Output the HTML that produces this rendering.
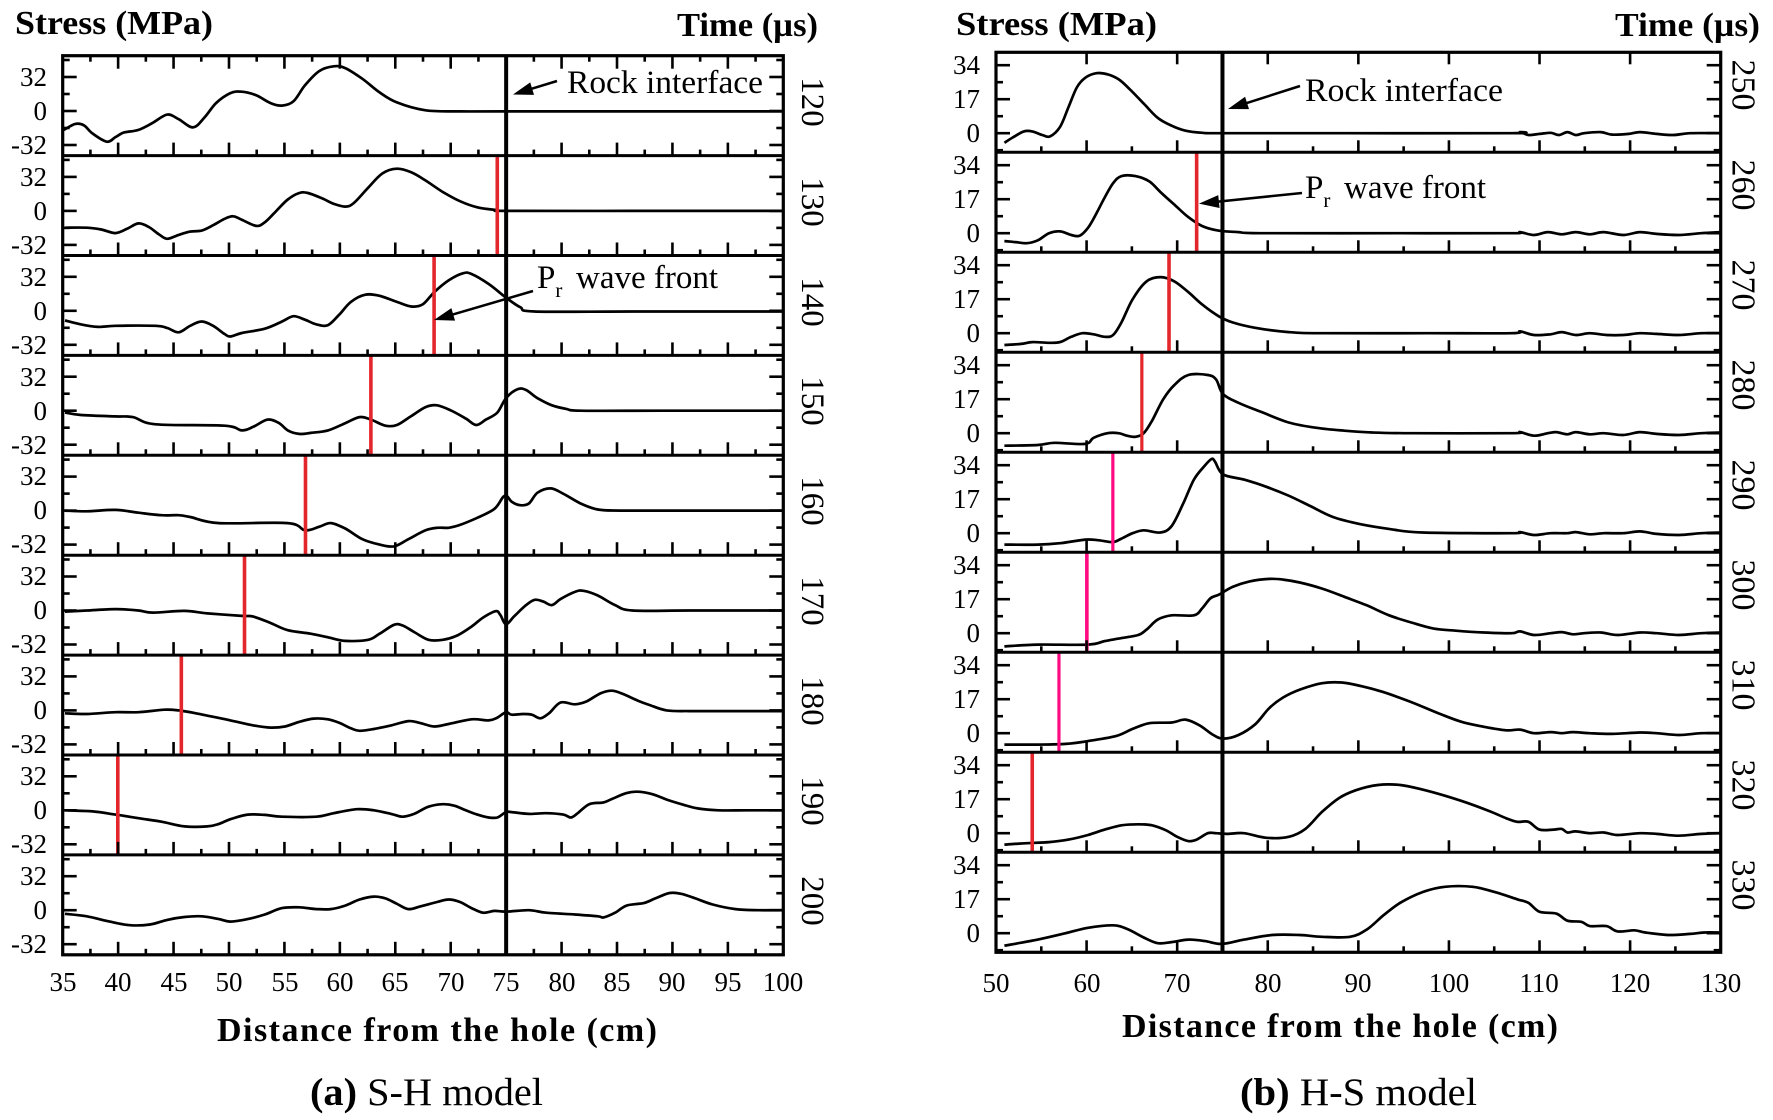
<!DOCTYPE html>
<html><head><meta charset="utf-8">
<style>
html,body{margin:0;padding:0;background:#fff;}
svg{display:block;}
text{font-family:"Liberation Serif","Times New Roman",serif;fill:#000;}
.b{font-weight:bold;}
</style></head>
<body>
<svg id="c" xmlns="http://www.w3.org/2000/svg" width="1773" height="1120" viewBox="0 0 1773 1120">
<rect x="0" y="0" width="1773" height="1120" fill="#fff"/>
<g id="plot"></g>
<!-- titles -->
<text class="b" x="15" y="34" font-size="34" textLength="198" lengthAdjust="spacingAndGlyphs">Stress (MPa)</text>
<text class="b" x="677" y="36" font-size="34" textLength="141" lengthAdjust="spacingAndGlyphs">Time (µs)</text>
<text class="b" x="956" y="35" font-size="34" textLength="201" lengthAdjust="spacingAndGlyphs">Stress (MPa)</text>
<text class="b" x="1615" y="36" font-size="34" textLength="145" lengthAdjust="spacingAndGlyphs">Time (µs)</text>
<text class="b" x="217" y="1041" font-size="34" textLength="440" lengthAdjust="spacing">Distance from the hole (cm)</text>
<text class="b" x="1122" y="1037" font-size="34" textLength="436" lengthAdjust="spacing">Distance from the hole (cm)</text>
<text x="310" y="1105" font-size="39" textLength="233" lengthAdjust="spacingAndGlyphs"><tspan font-weight="bold">(a)</tspan> S-H model</text>
<text x="1240" y="1105" font-size="39" textLength="237" lengthAdjust="spacingAndGlyphs"><tspan font-weight="bold">(b)</tspan> H-S model</text>
<!-- annotations -->
<text x="567" y="93" font-size="33" textLength="196" lengthAdjust="spacingAndGlyphs">Rock interface</text>
<text x="537" y="288" font-size="33">P<tspan font-size="21" dy="9">r</tspan><tspan dy="-9" x="576">wave front</tspan></text>
<text x="1305" y="101" font-size="33" textLength="198" lengthAdjust="spacingAndGlyphs">Rock interface</text>
<text x="1305" y="198" font-size="33">P<tspan font-size="21" dy="9">r</tspan><tspan dy="-9" x="1344">wave front</tspan></text>
<!-- left tick labels -->
<g font-size="27" text-anchor="end">
<text x="47" y="86">32</text><text x="47" y="120">0</text><text x="47" y="154">-32</text>
<text x="47" y="186">32</text><text x="47" y="220">0</text><text x="47" y="254">-32</text>
<text x="47" y="286">32</text><text x="47" y="320">0</text><text x="47" y="354">-32</text>
<text x="47" y="386">32</text><text x="47" y="420">0</text><text x="47" y="454">-32</text>
<text x="47" y="485">32</text><text x="47" y="519">0</text><text x="47" y="553">-32</text>
<text x="47" y="585">32</text><text x="47" y="619">0</text><text x="47" y="653">-32</text>
<text x="47" y="685">32</text><text x="47" y="719">0</text><text x="47" y="753">-32</text>
<text x="47" y="785">32</text><text x="47" y="819">0</text><text x="47" y="853">-32</text>
<text x="47" y="885">32</text><text x="47" y="919">0</text><text x="47" y="953">-32</text>
</g>
<g font-size="27" text-anchor="end">
<text x="980" y="74">34</text><text x="980" y="108">17</text><text x="980" y="142">0</text>
<text x="980" y="174">34</text><text x="980" y="208">17</text><text x="980" y="242">0</text>
<text x="980" y="274">34</text><text x="980" y="308">17</text><text x="980" y="342">0</text>
<text x="980" y="374">34</text><text x="980" y="408">17</text><text x="980" y="442">0</text>
<text x="980" y="474">34</text><text x="980" y="508">17</text><text x="980" y="542">0</text>
<text x="980" y="574">34</text><text x="980" y="608">17</text><text x="980" y="642">0</text>
<text x="980" y="674">34</text><text x="980" y="708">17</text><text x="980" y="742">0</text>
<text x="980" y="774">34</text><text x="980" y="808">17</text><text x="980" y="842">0</text>
<text x="980" y="874">34</text><text x="980" y="908">17</text><text x="980" y="942">0</text>
</g>
<!-- bottom tick labels -->
<g font-size="27" text-anchor="middle">
<text x="63" y="991">35</text><text x="118" y="991">40</text><text x="174" y="991">45</text><text x="229" y="991">50</text>
<text x="285" y="991">55</text><text x="340" y="991">60</text><text x="395" y="991">65</text><text x="451" y="991">70</text>
<text x="506" y="991">75</text><text x="562" y="991">80</text><text x="617" y="991">85</text><text x="672" y="991">90</text>
<text x="728" y="991">95</text><text x="783" y="991">100</text>
<text x="996" y="992">50</text><text x="1087" y="992">60</text><text x="1177" y="992">70</text><text x="1268" y="992">80</text>
<text x="1358" y="992">90</text><text x="1449" y="992">100</text><text x="1539" y="992">110</text><text x="1630" y="992">120</text>
<text x="1721" y="992">130</text>
</g>
<!-- time labels -->
<g font-size="33" text-anchor="middle" dominant-baseline="central">
<text transform="translate(812,102) rotate(90)">120</text>
<text transform="translate(812,202) rotate(90)">130</text>
<text transform="translate(812,302) rotate(90)">140</text>
<text transform="translate(812,401) rotate(90)">150</text>
<text transform="translate(812,501) rotate(90)">160</text>
<text transform="translate(812,601) rotate(90)">170</text>
<text transform="translate(812,701) rotate(90)">180</text>
<text transform="translate(812,801) rotate(90)">190</text>
<text transform="translate(812,901) rotate(90)">200</text>
</g>
<g font-size="34" text-anchor="middle" dominant-baseline="central">
<text transform="translate(1743,85) rotate(90)">250</text>
<text transform="translate(1743,185) rotate(90)">260</text>
<text transform="translate(1743,285) rotate(90)">270</text>
<text transform="translate(1743,385) rotate(90)">280</text>
<text transform="translate(1743,485) rotate(90)">290</text>
<text transform="translate(1743,585) rotate(90)">300</text>
<text transform="translate(1743,685) rotate(90)">310</text>
<text transform="translate(1743,785) rotate(90)">320</text>
<text transform="translate(1743,885) rotate(90)">330</text>
</g>
</svg>
<script>
(function(){
var NS='http://www.w3.org/2000/svg';
var g=document.getElementById('plot');
function el(tag,a){var e=document.createElementNS(NS,tag);for(var k in a)e.setAttribute(k,a[k]);g.appendChild(e);return e;}
function line(x1,y1,x2,y2,w,c){el('line',{x1:x1,y1:y1,x2:x2,y2:y2,stroke:c||'#000','stroke-width':w});}
function cr(p){
  var d='M'+p[0][0].toFixed(1)+','+p[0][1].toFixed(1);
  for(var i=0;i<p.length-1;i++){
    var p0=p[i-1]||p[i],p1=p[i],p2=p[i+1],p3=p[i+2]||p2;
    var c1x=p1[0]+(p2[0]-p0[0])/6,c1y=p1[1]+(p2[1]-p0[1])/6;
    var c2x=p2[0]-(p3[0]-p1[0])/6,c2y=p2[1]-(p3[1]-p1[1])/6;
    d+='C'+c1x.toFixed(1)+','+c1y.toFixed(1)+' '+c2x.toFixed(1)+','+c2y.toFixed(1)+' '+p2[0].toFixed(1)+','+p2[1].toFixed(1);
  }
  return d;
}
function arrow(x1,y1,x2,y2){
  var dx=x2-x1,dy=y2-y1,L=Math.sqrt(dx*dx+dy*dy),ux=dx/L,uy=dy/L;
  var hl=20,hw=6.5;
  var bx=x2-ux*hl,by=y2-uy*hl;
  line(x1,y1,bx+ux*2,by+uy*2,2.5);
  el('polygon',{points:x2+','+y2+' '+(bx-uy*hw)+','+(by+ux*hw)+' '+(bx+uy*hw)+','+(by-ux*hw),fill:'#000'});
}
/* ---------- LEFT ---------- */
var LX0=62.7,LX1=783.3,LT=55.7,LH=99.9;
function LXc(cm){return LX0+(cm-35)*(LX1-LX0)/65;}
function LXd(dx){return LX0+(dx-108)*(LX1-LX0)/1255;}
var left=[
{z:312,p:[[110,365],[130,348],[145,352],[160,375],[185,398],[200,385],[215,372],[240,365],[265,345],[290,322],[310,335],[335,358],[355,330],[375,290],[400,262],[420,258],[445,268],[470,290],[490,297],[510,285],[530,240],[555,200],[580,187],[600,192],[630,222],[660,260],[690,288],[740,310],[800,313],[880,313],[1100,313],[1363,313]]},
{z:590,p:[[112,637],[150,637],[175,642],[200,652],[220,640],[240,625],[258,635],[275,655],[290,668],[310,657],[330,648],[350,645],[370,630],[390,612],[405,605],[420,615],[445,632],[460,622],[480,590],[500,558],[520,540],[535,540],[560,555],[580,570],[600,578],[615,568],[640,525],[665,485],[690,472],[715,482],[740,505],[770,537],[800,563],[830,580],[865,588],[880,590],[1100,590],[1363,590]]},
{z:870,p:[[112,897],[140,908],[170,915],[200,912],[270,912],[290,918],[310,930],[330,912],[350,900],[370,912],[390,935],[400,942],[420,932],[460,920],[490,900],[510,885],[530,895],[550,908],[570,910],[590,880],[610,845],[635,825],[660,828],[690,845],[715,858],[735,852],[755,818],[780,785],[805,765],[820,767],[850,795],[880,833],[905,860],[930,872],[1100,872],[1363,872]]},
{z:1150,p:[[112,1155],[140,1162],[200,1166],[230,1168],[270,1188],[390,1192],[420,1205],[440,1195],[465,1175],[485,1185],[500,1205],[520,1215],[540,1212],[570,1205],[600,1185],[625,1168],[645,1175],[670,1192],[690,1190],[715,1165],[740,1140],[760,1135],[785,1150],[810,1172],[828,1190],[845,1175],[865,1155],[880,1115],[900,1090],[915,1092],[935,1115],[960,1135],[985,1145],[1010,1150],[1150,1150],[1363,1150]]},
{z:1430,p:[[112,1430],[150,1432],[200,1428],[240,1436],[280,1443],[310,1443],[330,1448],[380,1465],[500,1465],[530,1485],[555,1475],[575,1465],[600,1480],[630,1510],[660,1525],[685,1530],[710,1510],[740,1485],[760,1478],[780,1478],[800,1470],[830,1450],[860,1425],[875,1392],[882,1390],[890,1405],[905,1415],[920,1410],[935,1380],[958,1368],[980,1383],[1010,1410],[1040,1427],[1080,1430],[1200,1430],[1363,1430]]},
{z:140,p:[[112,143],[150,140],[200,136],[240,140],[265,146],[320,141],[360,148],[420,155],[440,157],[470,175],[500,195],[540,205],[570,215],[600,225],[640,222],[660,205],[685,180],[700,182],[720,200],[745,222],[770,222],[795,210],[820,185],[840,160],[862,142],[870,152],[880,178],[895,155],[915,125],[930,110],[945,115],[960,125],[975,108],[1000,88],[1015,85],[1040,98],[1070,125],[1100,140],[1200,140],[1363,140]]},
{z:420,p:[[112,428],[150,430],[200,425],[240,425],[285,418],[310,420],[340,428],[400,448],[440,462],[470,468],[495,465],[520,452],[545,443],[570,445],[590,455],[610,470],[625,477],[650,472],[680,462],[710,450],[730,455],[755,465],[780,458],[820,445],[850,448],[865,440],[880,425],[890,432],[910,430],[925,432],[940,442],[955,428],[975,398],[1000,403],[1020,395],[1045,372],[1065,365],[1085,375],[1110,393],[1130,405],[1160,420],[1200,422],[1280,422],[1363,422]]},
{z:700,p:[[112,700],[160,703],[200,712],[240,722],[280,732],[320,745],[360,745],[380,738],[400,725],[430,712],[460,713],[490,718],[550,718],[580,708],[620,697],[650,700],[680,710],[700,718],[720,710],[745,690],[770,683],[790,687],[810,700],[830,712],[850,720],[865,720],[880,705],[890,705],[920,710],[950,708],[980,712],[993,720],[1005,708],[1025,683],[1050,678],[1065,668],[1090,652],[1110,648],[1135,655],[1160,670],[1190,685],[1215,695],[1250,700],[1300,700],[1363,700]]},
{z:978,p:[[112,988],[150,995],[190,1010],[225,1020],[260,1018],[290,1005],[320,997],[350,995],[380,1003],[400,1010],[430,1003],[460,990],[490,972],[520,970],[550,975],[575,975],[600,965],[625,948],[650,940],[670,945],[690,960],[710,975],[730,968],[760,955],[780,948],[800,955],[820,972],[840,985],[860,980],[880,982],[920,978],[950,985],[1000,990],[1040,995],[1050,998],[1070,985],[1090,965],[1120,958],[1140,945],[1165,930],[1185,932],[1210,945],[1240,962],[1280,975],[1320,978],[1363,978]]}
];
var leftRed=[null,74.2,68.5,62.8,56.9,51.4,45.7,39.97,null];
for(var k=0;k<9;k++){
  var top=LT+k*LH,zero=top+55.3,bot=top+LH,d=left[k];
  var pts=d.p.map(function(q){return [LXd(q[0]),zero+(q[1]-d.z)*0.3575];});
  el('path',{d:cr(pts),fill:'none',stroke:'#000','stroke-width':2.7,'stroke-linejoin':'round'});
  if(leftRed[k]!==null){line(LXc(leftRed[k]),top,LXc(leftRed[k]),bot,3.6,'#e3262b');}
  // y ticks
  [[-34,14],[0,14],[34,14],[-17,7],[17,7],[-51,7]].forEach(function(t){
    line(LX0,zero+t[0],LX0+t[1],zero+t[0],2.6);
    line(LX1,zero+t[0],LX1-t[1],zero+t[0],2.6);
  });
  // bottom ticks
  for(var c=37.5;c<100;c+=2.5){
    var maj=(Math.abs(c%5)<0.01), L=maj?13:6;
    line(LXc(c),bot,LXc(c),bot-L,2.6);
    if(k===0) line(LXc(c),top,LXc(c),top+L,2.6);
  }
  if(k>0) line(LX0,top,LX1,top,3);
}
line(LXc(75),LT,LXc(75),LT+9*LH,4);
el('rect',{x:LX0,y:LT,width:LX1-LX0,height:9*LH,fill:'none',stroke:'#000','stroke-width':3.2});
/* ---------- RIGHT ---------- */
var RX0=996,RX1=1720.7,RT=52.3,RH=100;
function RXc(cm){return RX0+(cm-50)*(RX1-RX0)/80;}
function RXd(dx){return RX0+(dx-175)*(RX1-RX0)/1300;}
var right=[
{z:373,p:[[190,400],[205,385],[225,368],[240,368],[258,378],[272,382],[290,355],[305,300],[320,245],[335,218],[355,205],[375,208],[395,222],[415,250],[440,290],[465,330],[490,352],[515,366],[545,372],[580,373],[800,373],[1100,373],[1115,370],[1130,378],[1150,375],[1170,372],[1185,378],[1200,370],[1215,378],[1230,373],[1260,370],[1280,377],[1310,375],[1330,370],[1360,375],[1390,378],[1420,373],[1475,373]]},
{z:655,p:[[190,677],[210,680],[230,683],[250,675],[270,655],[290,650],[310,660],[325,662],[340,640],[355,600],[370,555],[385,515],[400,495],[425,495],[450,510],[470,540],[495,575],[520,610],[545,635],[575,648],[610,652],[650,655],[900,655],[1100,655],[1115,652],[1140,660],[1165,652],[1190,658],[1215,652],[1240,658],[1265,652],[1300,660],[1330,652],[1360,657],[1400,660],[1440,655],[1475,652]]},
{z:935,p:[[190,968],[220,965],[240,960],[270,962],[290,960],[310,945],[330,935],[350,938],[370,945],[385,940],[400,905],[420,840],[445,790],[470,778],[495,790],[520,820],[545,855],[575,888],[600,905],[640,920],[700,932],[760,935],[950,935],[1100,935],[1115,930],[1140,940],[1170,938],[1190,932],[1215,940],[1240,935],[1270,940],[1300,940],[1330,935],[1360,937],[1400,940],[1440,935],[1475,935]]},
{z:1215,p:[[190,1250],[250,1248],[280,1242],[335,1245],[350,1228],[375,1215],[395,1215],[410,1222],[425,1225],[440,1215],[455,1180],[475,1120],[495,1080],[520,1052],[555,1052],[570,1065],[582,1105],[610,1130],[650,1155],[700,1185],[750,1200],[800,1208],[850,1213],[920,1215],[1100,1215],[1115,1212],[1140,1222],[1165,1215],[1180,1212],[1200,1218],[1215,1212],[1240,1218],[1265,1215],[1300,1220],[1330,1212],[1360,1217],[1400,1220],[1440,1215],[1475,1213]]},
{z:1500,p:[[190,1532],[250,1532],[290,1528],[335,1518],[360,1520],[385,1525],[400,1515],[420,1500],[440,1492],[470,1498],[490,1480],[510,1420],[530,1350],[550,1310],[562,1292],[568,1300],[582,1335],[620,1350],[660,1370],[700,1395],[740,1425],[780,1455],[830,1475],[880,1488],[940,1498],[1100,1500],[1115,1497],[1140,1505],[1170,1500],[1200,1500],[1215,1497],[1240,1503],[1265,1500],[1300,1500],[1330,1495],[1360,1502],[1400,1505],[1440,1500],[1475,1498]]},
{z:210,p:[[190,247],[250,242],[340,242],[370,232],[395,225],[430,215],[445,200],[465,172],[490,160],[530,160],[545,140],[560,112],[575,102],[600,80],[630,65],[665,58],[690,60],[720,68],[760,85],[800,108],[840,132],[880,160],[920,180],[960,197],[1000,203],[1050,208],[1100,210],[1115,205],[1140,215],[1170,210],[1190,207],[1210,213],[1230,210],[1260,208],[1290,215],[1330,208],[1360,210],[1400,215],[1440,210],[1475,208]]},
{z:490,p:[[190,522],[250,522],[300,520],[340,512],[390,498],[420,478],[450,462],[490,460],[515,452],[540,468],[565,495],[583,505],[610,495],[640,465],[665,420],[690,390],[720,368],[760,350],[795,348],[830,358],[870,375],[920,403],[970,435],[1010,458],[1050,472],[1090,482],[1115,480],[1140,490],[1170,487],[1190,490],[1210,487],[1240,490],[1280,492],[1330,488],[1360,490],[1400,495],[1440,490],[1475,490]]},
{z:770,p:[[190,802],[230,798],[270,795],[305,788],[340,775],[370,760],[400,748],[430,745],[455,748],[480,762],[500,780],[520,792],[535,788],[555,770],[570,770],[590,772],[620,770],[660,783],[700,780],[730,758],[760,710],[790,672],[820,650],[860,635],[900,635],[940,648],[980,665],[1020,685],[1060,708],[1090,728],[1110,738],[1130,738],[1150,760],[1175,760],[1190,758],[1200,768],[1215,765],[1240,770],[1265,768],[1290,775],[1330,770],[1360,772],[1400,777],[1440,772],[1475,770]]},
{z:1050,p:[[190,1085],[250,1068],[300,1050],[340,1035],[385,1028],[410,1038],[440,1062],[465,1078],[490,1075],[520,1068],[550,1072],[580,1080],[620,1068],[670,1055],[720,1055],[760,1060],[810,1060],[840,1040],[870,1000],[900,965],[940,935],[980,920],[1030,920],[1070,935],[1110,955],[1130,965],[1150,990],[1180,995],[1200,1015],[1225,1018],[1240,1030],[1270,1030],[1290,1045],[1320,1042],[1340,1048],[1380,1055],[1420,1052],[1445,1048],[1475,1048]]}
];
var rightRed=[null,[72.15,'#e3262b',3.6],[69.1,'#e3262b',3.6],[66.1,'#e3262b',3.2],[62.9,'#ff0a80',3.2],[60.03,'#ff0a80',3.6],[56.95,'#ff0a80',3.2],[54.0,'#e3262b',3.6],null];
for(var k=0;k<9;k++){
  var top=RT+k*RH,zero=top+80.9,bot=top+RH,d=right[k];
  var pts=d.p.map(function(q){return [RXd(q[0]),zero+(q[1]-d.z)*0.3571];});
  el('path',{d:cr(pts),fill:'none',stroke:'#000','stroke-width':2.7,'stroke-linejoin':'round'});
  var r=rightRed[k];
  if(r){line(RXc(r[0]),top,RXc(r[0]),bot,r[2],r[1]);}
  [[-68,14],[-34,14],[0,14],[-51,7],[-17,7],[17,7]].forEach(function(t){
    line(RX0,zero+t[0],RX0+t[1],zero+t[0],2.6);
    line(RX1,zero+t[0],RX1-t[1],zero+t[0],2.6);
  });
  for(var c=55;c<130;c+=5){
    var maj=(c%10===0),L=maj?12:6;
    line(RXc(c),bot,RXc(c),bot-L,2.6);
    if(k===0&&maj) line(RXc(c),top,RXc(c),top+L,2.6);
  }
  if(k>0) line(RX0,top,RX1,top,3);
}
line(RXc(75),RT,RXc(75),RT+9*RH,4);
el('rect',{x:RX0,y:RT,width:RX1-RX0,height:9*RH,fill:'none',stroke:'#000','stroke-width':3.2});
/* arrows */
arrow(557,81,513,94.5);
arrow(533,291,434,320);
arrow(1300,86,1228,109);
arrow(1302,193,1199,203.6);
})();
</script>
</body></html>
